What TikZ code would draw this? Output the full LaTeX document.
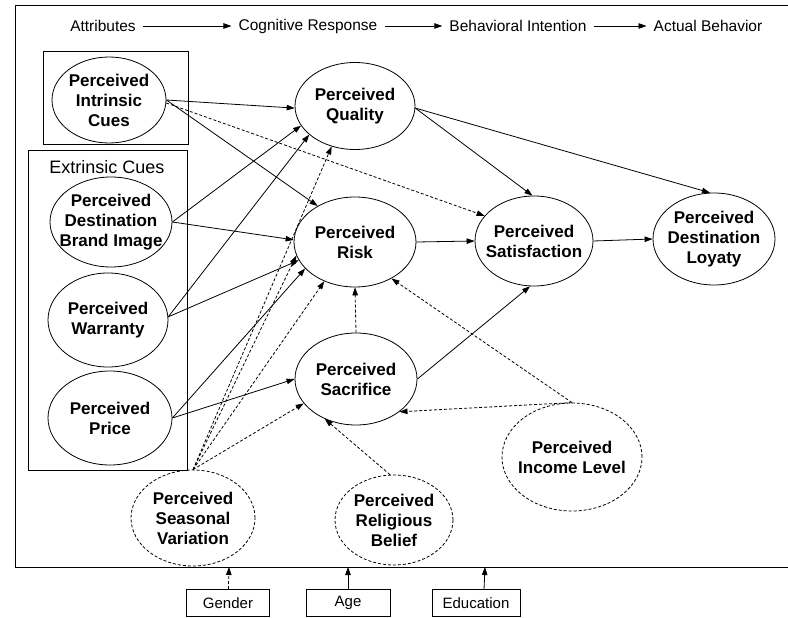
\documentclass[tikz,border=0pt]{standalone}
\usepackage{fontspec}
\setmainfont{Liberation Sans}
\usetikzlibrary{shapes.geometric,arrows.meta}

\begin{document}
\begin{tikzpicture}[
        x=1pt, y=-1pt,
        latent/.style={ellipse, draw, line width=0.8pt, inner xsep=-15pt, inner ysep=0pt, align=center, font=\fontsize{17}{20}\selectfont\bfseries},
        moder/.style={latent, dash pattern=on 3pt off 2pt},
        arrow/.style={-{Triangle[length=8pt,width=5.5pt]}, line width=0.8pt},
        darrow/.style={arrow, dash pattern=on 3pt off 2pt},
        demo/.style={draw, line width=0.8pt, minimum height=27pt, font=\fontsize{15}{18}\selectfont},
        head/.style={inner sep=7pt, font=\fontsize{15.5}{18}\selectfont}
    ]
    \useasboundingbox (0,0) rectangle (788,618);
    % Frames
    \draw[line width=0.8pt] (788,5) -- (15,5) -- (15,567) -- (788,567);
    \draw[line width=0.8pt] (43,51) rectangle (188,144);
    \draw[line width=0.8pt] (28,150) rectangle (187,470);
    \node[font=\fontsize{18}{20}\selectfont] (extr) at (107,167) {Extrinsic Cues};
    % Header
    \node[head] (attr) at (103,26) {Attributes};
    \node[head] (cogn) at (308,26) {Cognitive Response};
    \node[head] (behint) at (518,26) {Behavioral Intention};
    \node[head] (actbeh) at (708,26) {Actual Behavior};
    \draw[arrow] (attr) -- (cogn);
    \draw[arrow] (cogn) -- (behint);
    \draw[arrow] (behint) -- (actbeh);
    % Nodes
    \node[latent, minimum width=114pt, minimum height=86pt] (intr) at (109,100) {Perceived\\Intrinsic\\Cues};
    \node[latent, minimum width=122pt, minimum height=90pt] (brand) at (111,222) {Perceived\\Destination\\Brand Image};
    \node[latent, minimum width=120pt, minimum height=94pt] (warr) at (108,320) {Perceived\\Warranty};
    \node[latent, minimum width=124pt, minimum height=94pt] (price) at (110,418) {Perceived\\Price};
    \node[latent, minimum width=120pt, minimum height=87pt] (qual) at (355,106) {Perceived\\Quality};
    \node[latent, minimum width=122pt, minimum height=90pt] (risk) at (355,242) {Perceived\\Risk};
    \node[latent, minimum width=122pt, minimum height=92pt] (sacr) at (356,379) {Perceived\\Sacrifice};
    \node[latent, minimum width=118pt, minimum height=90pt] (satis) at (534,241) {Perceived\\Satisfaction};
    \node[latent, minimum width=122pt, minimum height=92pt] (loyal) at (714,239) {Perceived\\Destination\\Loyaty};
    \node[moder, minimum width=124pt, minimum height=96pt] (seas) at (193,518) {Perceived\\Seasonal\\Variation};
    \node[moder, minimum width=118pt, minimum height=90pt] (reli) at (394,520) {Perceived\\Religious\\Belief};
    \node[moder, minimum width=140pt, minimum height=108pt] (inc) at (572,457) {Perceived\\Income Level};
    \node[demo, minimum width=83pt] (gender) at (228,603) {Gender};
    \node[demo, minimum width=84pt] (age) at (348,603) {Age};
    \node[demo, minimum width=88pt] (edu) at (476,603) {Education};
    \coordinate (gtip) at (229,567);
    \coordinate (atip) at (348,567);
    \coordinate (etip) at (485,567);
    % Edges
    \draw[arrow] (intr.east) -- (qual.182);
    \draw[arrow] (intr.east) -- (risk.136);
    \draw[darrow] (intr.-3) -- (satis.153);
    \draw[arrow] (brand.east) -- (qual.200);
    \draw[arrow] (brand.east) -- (risk.178);
    \draw[arrow] (warr.3) -- (qual.212);
    \draw[arrow] (warr.3) -- (risk.198);
    \draw[arrow] (price.east) -- (risk.208);
    \draw[arrow] (price.east) -- (sacr.180);
    \draw[darrow] (seas.north) -- (qual.240);
    \draw[darrow] (seas.north) -- (risk.193);
    \draw[darrow] (seas.north) -- (risk.232);
    \draw[darrow] (seas.north) -- (sacr.205);
    \draw[darrow] (sacr.north) -- (risk.south);
    \draw[darrow] (inc.north) -- (risk.-45);
    \draw[darrow] (inc.north) -- (sacr.-37);
    \draw[darrow] (reli.95) -- (sacr.232);
    \draw[arrow] (qual.-2) -- (satis.92);
    \draw[arrow] (qual.-2) -- (loyal.95);
    \draw[arrow] (risk.east) -- (satis.west);
    \draw[arrow] (sacr.east) -- (satis.265);
    \draw[arrow] (satis.east) -- (loyal.west);
    \draw[darrow] (gender) -- (gtip);
    \draw[arrow] (age) -- (atip);
    \draw[arrow] (edu.60) -- (etip);
\end{tikzpicture}
\end{document}
